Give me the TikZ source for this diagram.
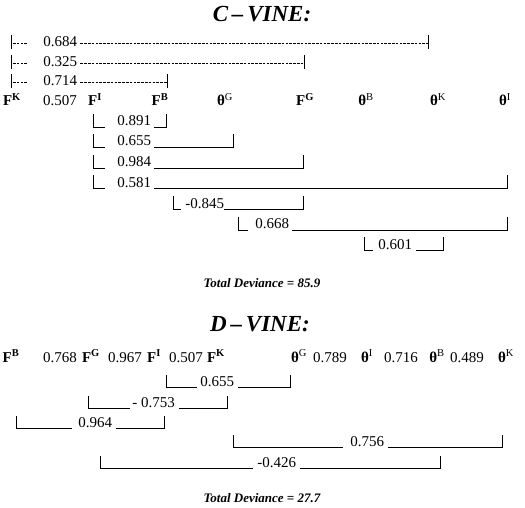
\documentclass[tikz,border=0pt]{standalone}
\usepackage{fontspec}
\setmainfont{Liberation Serif}
\usepackage{tikz}
\tikzset{every picture/.style={line width=.6pt}}
\tikzset{
 val/.style={anchor=base west,inner sep=0pt},
 var/.style={anchor=base,inner sep=0pt},
 ttl/.style={anchor=base,inner sep=0pt,font=\fontsize{23}{26}\selectfont\bfseries\itshape},
 dev/.style={anchor=base,inner sep=0pt,font=\fontsize{13}{15}\selectfont\bfseries\itshape},
 dots/.style={dash pattern=on 2.6pt off 1.2pt,line width=.55pt},
 brk/.style={line width=.6pt}
}
\newcommand{\Fv}[1]{\textbf{F\textsuperscript{#1}}}
\newcommand{\Tv}[1]{\textbf{θ}\textsuperscript{#1}}

\begin{document}
\begin{tikzpicture}[x=1pt,y=-1pt,
 every node/.style={font=\fontsize{15}{17}\selectfont}]
 \useasboundingbox (0,0) rectangle (525,508);

 % C-vine: root F^K, dashed pairs on top
 \node[ttl] (ctitle) at (262,22) {C\,–\,VINE:};
 \node[val] (c684) at (43,47) {0.684};
 \draw (11,35)--(11,49);
 \draw[dots] (13,43)--(27,43);
 \draw[dots] ([xshift=3pt]c684.east |- 0,43)--(428,43);
 \draw (428,35)--(428,49);
 \node[val] (c325) at (43,67) {0.325};
 \draw (11,55)--(11,69);
 \draw[dots] (13,63)--(27,63);
 \draw[dots] ([xshift=3pt]c325.east |- 0,63)--(304,63);
 \draw (304,55)--(304,69);
 \node[val] (c714) at (43,86) {0.714};
 \draw (11,74)--(11,88);
 \draw[dots] (13,82)--(27,82);
 \draw[dots] ([xshift=3pt]c714.east |- 0,82)--(167,82);
 \draw (167,74)--(167,88);

 % C-vine: the order of the variables
 \node[var] (cFK) at (12,106) {\Fv{K}};
 \node[var] (c507) at (60,106) {0.507};
 \node[var] (cFI) at (95,106) {\Fv{I}};
 \node[var] (cFB) at (160,106) {\Fv{B}};
 \node[var] (cTG) at (225,106) {\Tv{G}};
 \node[var] (cFG) at (305,106) {\Fv{G}};
 \node[var] (cTB) at (366,106) {\Tv{B}};
 \node[var] (cTK) at (438,106) {\Tv{K}};
 \node[var] (cTI) at (505,106) {\Tv{I}};

 % C-vine: pairs with F^I, then the deeper trees
 \node[val] (c891) at (117,126) {0.891};
 \draw[brk] (93,114)--(93,127)--(105,127);
 \draw[brk] ([xshift=3pt]c891.east |- 0,127)--(166,127)--(166,114);
 \node[val] (c655) at (117,146) {0.655};
 \draw[brk] (93,134)--(93,147)--(105,147);
 \draw[brk] ([xshift=3pt]c655.east |- 0,147)--(233,147)--(233,134);
 \node[val] (c984) at (117,167) {0.984};
 \draw[brk] (93,155)--(93,168)--(105,168);
 \draw[brk] ([xshift=3pt]c984.east |- 0,168)--(303,168)--(303,155);
 \node[val] (c581) at (117,187) {0.581};
 \draw[brk] (93,175)--(93,188)--(105,188);
 \draw[brk] ([xshift=3pt]c581.east |- 0,188)--(507,188)--(507,175);
 \node[val] (c845) at (185,208) {-0.845};
 \draw[brk] (173,196)--(173,209)--(181,209);
 \draw[brk] (c845.east |- 0,209)--(303,209)--(303,196);
 \node[val] (c668) at (255,229) {0.668};
 \draw[brk] (238,217)--(238,230)--(248,230);
 \draw[brk] ([xshift=3pt]c668.east |- 0,230)--(507,230)--(507,217);
 \node[val] (c601) at (378,249) {0.601};
 \draw[brk] (364,237)--(364,250)--(373,250);
 \draw[brk] ([xshift=4pt]c601.east |- 0,250)--(443,250)--(443,237);
 \node[dev] (cdev) at (262,287) {Total Deviance = 85.9};

 % D-vine: the path with its first tree
 \node[ttl] (dtitle) at (260,331) {D\,–\,VINE:};
 \node[var] (dFB) at (11,362) {\Fv{B}};
 \node[var] (d768) at (60,362) {0.768};
 \node[var] (dFG) at (91,362) {\Fv{G}};
 \node[var] (d967) at (125,362) {0.967};
 \node[var] (dFI) at (154,362) {\Fv{I}};
 \node[var] (d507) at (186,362) {0.507};
 \node[var] (dFK) at (216,362) {\Fv{K}};
 \node[var] (dTG) at (299,362) {\Tv{G}};
 \node[var] (d789) at (330,362) {0.789};
 \node[var] (dTI) at (367,362) {\Tv{I}};
 \node[var] (d716) at (401,362) {0.716};
 \node[var] (dTB) at (437,362) {\Tv{B}};
 \node[var] (d489) at (467,362) {0.489};
 \node[var] (dTK) at (506,362) {\Tv{K}};

 % D-vine: deeper trees
 \node[val] (d655) at (200,386) {0.655};
 \draw[brk] (166,375)--(166,387)--(197,387);
 \draw[brk] ([xshift=4pt]d655.east |- 0,387)--(290,387)--(290,375);
 \node[val] (d753) at (132,407) {- 0.753};
 \draw[brk] (88,396)--(88,408)--(130,408);
 \draw[brk] ([xshift=4pt]d753.east |- 0,408)--(227,408)--(227,396);
 \node[val] (d964) at (78,427) {0.964};
 \draw[brk] (16,416)--(16,428)--(72,428);
 \draw[brk] ([xshift=4pt]d964.east |- 0,428)--(164,428)--(164,416);
 \node[val] (d756) at (350,446) {0.756};
 \draw[brk] (233,435)--(233,447)--(343,447);
 \draw[brk] ([xshift=4pt]d756.east |- 0,447)--(502,447)--(502,435);
 \node[val] (d426) at (257,467) {-0.426};
 \draw[brk] (100,456)--(100,468)--(253,468);
 \draw[brk] ([xshift=4pt]d426.east |- 0,468)--(440,468)--(440,456);
 \node[dev] (ddev) at (262,502) {Total Deviance = 27.7};
\end{tikzpicture}
\end{document}
